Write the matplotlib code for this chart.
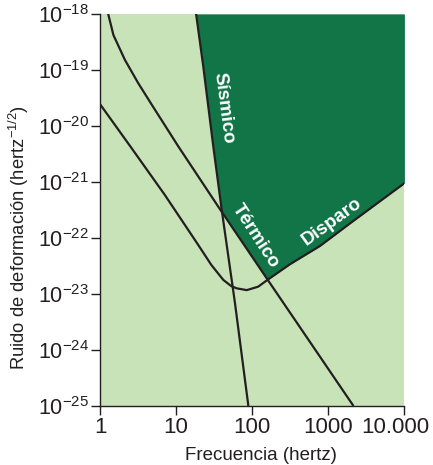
import numpy as np
import matplotlib
matplotlib.use("Agg")
import matplotlib.pyplot as plt
from matplotlib.ticker import FixedLocator, FixedFormatter, NullLocator
import matplotlib.transforms as mtransforms

plt.rcParams['font.family'] = ['Liberation Sans', 'DejaVu Sans']
plt.rcParams['mathtext.default'] = 'regular'

# ---- data ----
seismic_f = [18.3, 22.75, 30.8, 39.7, 59.4, 89.0]
seismic_y = [1e-18, 1.15e-19, 4.3e-21, 3.2e-22, 6.8e-24, 1e-25]

thermal_f = [1.28, 1.5, 2.13, 3.18, 4.78, 10.7, 35.9, 155, 2140]
thermal_y = [1e-18, 4.2e-19, 1.5e-19, 5.8e-20, 2.4e-20, 4.3e-21, 3.6e-22, 1.9e-23, 1e-25]

quantum_f = [1.0, 2.58, 7.08, 19.4, 29.0, 41.7, 53.1, 62.5, 84.7, 120, 162, 314, 778, 1928, 10000]
quantum_y = [2.45e-20, 4.07e-21, 5.9e-22, 7.6e-23, 3.3e-23, 1.78e-23, 1.38e-23,
             1.26e-23, 1.17e-23, 1.35e-23, 1.82e-23, 3.4e-23, 7.2e-23, 1.82e-22, 9.5e-22]

x_ticks = [1, 10, 100, 1000, 10000]
x_ticklabels = ["1", "10", "100", "1000", "10.000"]
y_ticks = [1e-25, 1e-24, 1e-23, 1e-22, 1e-21, 1e-20, 1e-19, 1e-18]
y_ticklabels = [r"$10^{-25}$", r"$10^{-24}$", r"$10^{-23}$", r"$10^{-22}$",
                r"$10^{-21}$", r"$10^{-20}$", r"$10^{-19}$", r"$10^{-18}$"]

labels = {"Sísmico": (42, 2.1e-20, -82.5),
          "Térmico": (109, 1.1e-22, -57),
          "Disparo": (1100, 1.95e-22, 36)}

light = "#c9e3b9"
dark = "#117548"
ink = "#231f20"

fig = plt.figure(figsize=(4.33, 4.65), dpi=100)
ax = fig.add_axes([0.231, 0.127, 0.703, 0.843])
ax.set_xscale("log")
ax.set_yscale("log")
ax.set_xlim(1, 10000)
ax.set_ylim(1e-25, 1e-18)
ax.set_facecolor(light)

# envelope (upper boundary of all noise curves) -> dark region above it
grid = np.linspace(0, 4, 3000)
def logi(fs, ys, left, right):
    return np.interp(grid, np.log10(fs), np.log10(ys), left=left, right=right)
env = np.maximum.reduce([logi(seismic_f, seismic_y, -10, -40),
                         logi(thermal_f, thermal_y, -10, -40),
                         logi(quantum_f, quantum_y, -40, -40)])
ax.fill_between(10 ** grid, 10 ** np.minimum(env, -18), 1e-18, color=dark, lw=0, zorder=1)

for fs, ys in [(seismic_f, seismic_y), (thermal_f, thermal_y), (quantum_f, quantum_y)]:
    ax.plot(fs, ys, color=ink, lw=1.6, zorder=3, solid_capstyle="butt", solid_joinstyle="round")

for txt, (fx, fy, rot) in labels.items():
    ax.text(fx, fy, txt, color="white", fontsize=13.5, fontweight="bold", rotation=rot,
            rotation_mode="anchor", ha="center", va="center", zorder=4)

for s in ["top", "right"]:
    ax.spines[s].set_visible(False)
for s in ["left", "bottom"]:
    ax.spines[s].set_color(ink)
    ax.spines[s].set_linewidth(1.0)

ax.xaxis.set_major_locator(FixedLocator(x_ticks))
ax.xaxis.set_major_formatter(FixedFormatter(x_ticklabels))
ax.xaxis.set_minor_locator(NullLocator())
ax.yaxis.set_major_locator(FixedLocator(y_ticks))
ax.yaxis.set_major_formatter(FixedFormatter(y_ticklabels))
ax.yaxis.set_minor_locator(NullLocator())
ax.tick_params(which="major", direction="out", length=6.5, width=1.0, color=ink,
               labelcolor=ink, pad=1.5)
ax.tick_params(axis="x", labelsize=16)
ax.tick_params(axis="y", labelsize=15.5)

ax.set_xlabel("Frecuencia (hertz)", fontsize=13.5, color=ink)
ax.set_ylabel(r"Ruido de deformación (hertz$^{-1/2}$)", fontsize=13.2, color=ink)
ax.xaxis.set_label_coords(0.529, -0.104)
ax.yaxis.set_label_coords(-0.227, 0.43)

fig.canvas.draw()
last = ax.get_xticklabels()[-1]
last.set_transform(last.get_transform() + mtransforms.ScaledTranslation(-9 / 100, 0, fig.dpi_scale_trans))

fig.savefig("out.png", dpi=100)
